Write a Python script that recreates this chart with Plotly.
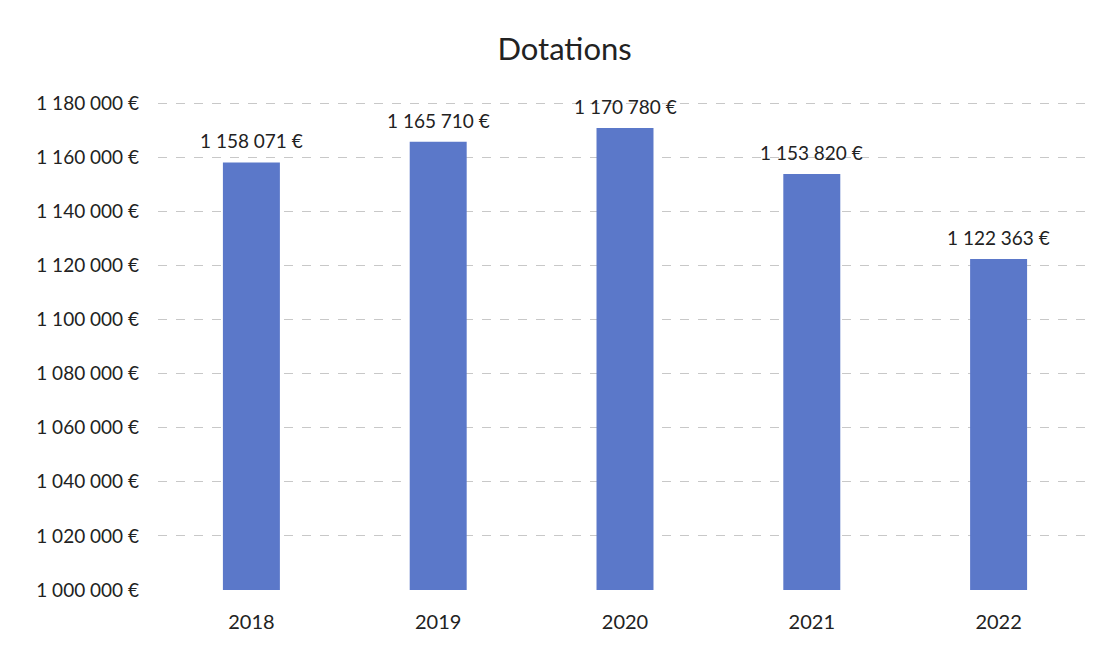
import plotly.graph_objects as go

years = ["2018", "2019", "2020", "2021", "2022"]
values = [1158071, 1165710, 1170780, 1153820, 1122363]
tick_vals = [1000000 + 20000 * i for i in range(10)]


def fmt(v):
    return f"{v:,}".replace(",", " ") + " €"


labels = [fmt(v) for v in values]
tick_text = [fmt(v) for v in tick_vals]

fig = go.Figure(
    go.Bar(
        x=years,
        y=values,
        marker=dict(color="#5b78c9", line=dict(width=0)),
        cliponaxis=False,
        width=0.305,
    )
)

# category axis: annotation x given as category index
for i, (v, lab) in enumerate(zip(values, labels)):
    fig.add_annotation(
        x=i,
        y=v,
        text=lab,
        showarrow=False,
        yanchor="bottom",
        yshift=8,
        font=dict(size=19, color="#222222"),
    )

fig.update_layout(
    width=1107,
    height=650,
    margin=dict(l=158, r=15, t=102, b=60),
    paper_bgcolor="white",
    plot_bgcolor="white",
    font=dict(family="Lato, Open Sans, sans-serif", size=19, color="#222222"),
    title=dict(
        text="Dotations",
        x=0.51,
        xref="container",
        xanchor="center",
        y=0.925,
        yref="container",
        yanchor="middle",
        font=dict(size=31, color="#222222"),
    ),
    showlegend=False,
    xaxis=dict(
        type="category",
        showgrid=False,
        showline=False,
        ticks="",
        tickfont=dict(size=20),
        ticklabelstandoff=18,
    ),
    yaxis=dict(
        range=[1000000, 1180400],
        tickvals=tick_vals,
        ticktext=tick_text,
        showgrid=True,
        gridcolor="#c8c8c8",
        griddash="dash",
        gridwidth=1,
        zeroline=False,
        showline=False,
        tickfont=dict(size=19),
        ticklabelstandoff=18,
    ),
)

fig.write_html("out.html")
